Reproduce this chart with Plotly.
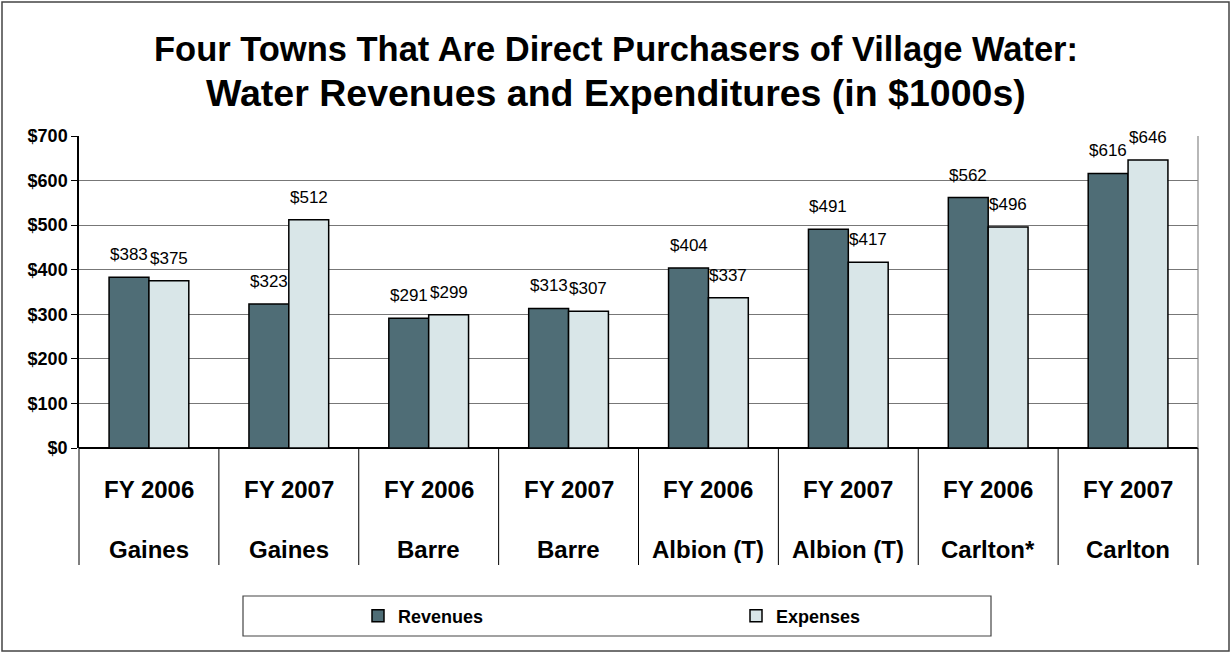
import plotly.graph_objects as go

years = ["FY 2006", "FY 2007", "FY 2006", "FY 2007", "FY 2006", "FY 2007", "FY 2006", "FY 2007"]
towns = ["Gaines", "Gaines", "Barre", "Barre", "Albion (T)", "Albion (T)", "Carlton*", "Carlton"]
revenues = [383, 323, 291, 313, 404, 491, 562, 616]
expenses = [375, 512, 299, 307, 337, 417, 496, 646]
y_ticks = [0, 100, 200, 300, 400, 500, 600, 700]
y_tick_labels = ["$" + str(v) for v in y_ticks]

FONT = "Liberation Sans, Arial, sans-serif"
REV_COLOR = "#4F6D76"
EXP_COLOR = "#D9E6E8"

W, H = 1231, 653
ML, MR, MT, MB = 79, 33, 136, 205
PW, PH = W - ML - MR, H - MT - MB

def px_to_paper_x(px):
    return (px - ML) / PW

def px_to_paper_y(py):
    return (H - MB - py) / PH

n = len(towns)
idx = list(range(n))
bargap = 0.43
bar_w = (1 - bargap) / 2

fig = go.Figure()
fig.add_trace(go.Bar(x=idx, y=revenues, name="Revenues",
                     marker=dict(color=REV_COLOR, line=dict(color="black", width=1.5))))
fig.add_trace(go.Bar(x=idx, y=expenses, name="Expenses",
                     marker=dict(color=EXP_COLOR, line=dict(color="black", width=1.5))))

annotations = []
# data labels
for i in idx:
    for val, off in ((revenues[i], -bar_w / 2), (expenses[i], bar_w / 2)):
        annotations.append(dict(x=i + off, y=val, xref="x", yref="y", text="$" + str(val),
                                showarrow=False, yanchor="bottom", yshift=11,
                                font=dict(family=FONT, size=17, color="black")))
# category labels
for i in idx:
    annotations.append(dict(x=i, y=px_to_paper_y(489), xref="x", yref="paper", text=years[i],
                            showarrow=False, yanchor="middle",
                            font=dict(family=FONT, size=24, color="black", weight="bold")))
    annotations.append(dict(x=i, y=px_to_paper_y(549), xref="x", yref="paper", text=towns[i],
                            showarrow=False, yanchor="middle",
                            font=dict(family=FONT, size=24, color="black", weight="bold")))
# title
annotations.append(dict(x=px_to_paper_x(615.5), y=px_to_paper_y(49), xref="paper", yref="paper",
                        text="Four Towns That Are Direct Purchasers of Village Water:",
                        showarrow=False, yanchor="middle",
                        font=dict(family=FONT, size=34.5, color="black", weight="bold")))
annotations.append(dict(x=px_to_paper_x(615.5), y=px_to_paper_y(93), xref="paper", yref="paper",
                        text="Water Revenues and Expenditures (in $1000s)",
                        showarrow=False, yanchor="middle",
                        font=dict(family=FONT, size=37.5, color="black", weight="bold")))

shapes = []
# category separators
for k in range(n + 1):
    xp = k / n
    shapes.append(dict(type="line", xref="paper", yref="paper", x0=xp, x1=xp,
                       y0=0, y1=px_to_paper_y(565), line=dict(color="black", width=1)))
# outer border
shapes.append(dict(type="rect", xref="paper", yref="paper",
                   x0=px_to_paper_x(2), x1=px_to_paper_x(1229),
                   y0=px_to_paper_y(651), y1=px_to_paper_y(2),
                   line=dict(color="#444444", width=1.5)))
# legend box
shapes.append(dict(type="rect", xref="paper", yref="paper",
                   x0=px_to_paper_x(243), x1=px_to_paper_x(991),
                   y0=px_to_paper_y(636), y1=px_to_paper_y(596),
                   line=dict(color="#444444", width=1.2)))
# right plot border
shapes.append(dict(type="line", xref="paper", yref="paper", x0=1, x1=1, y0=0, y1=1,
                   line=dict(color="#888888", width=1.2)))

fig.update_layout(
    width=W, height=H,
    margin=dict(l=ML, r=MR, t=MT, b=MB),
    paper_bgcolor="white", plot_bgcolor="white",
    barmode="group", bargap=bargap, bargroupgap=0,
    showlegend=True,
    legend=dict(orientation="h", x=px_to_paper_x(358), y=px_to_paper_y(616),
                xanchor="left", yanchor="middle",
                bgcolor="rgba(0,0,0,0)", borderwidth=0,
                entrywidth=333, entrywidthmode="pixels",
                font=dict(family=FONT, size=18, color="black", weight="bold")),
    annotations=annotations,
    shapes=shapes,
    xaxis=dict(range=[-0.5, n - 0.5], showticklabels=False, ticks="",
               showgrid=False, zeroline=False, showline=False, fixedrange=True),
    yaxis=dict(range=[0, 700], tickvals=y_ticks, ticktext=y_tick_labels,
               ticks="outside", ticklen=6, tickcolor="black",
               showgrid=True, gridcolor="#777777", gridwidth=1,
               showline=True, linecolor="black", linewidth=1.5,
               zeroline=True, zerolinecolor="black", zerolinewidth=1.5,
               tickfont=dict(family=FONT, size=18, color="black", weight="bold")),
)

fig.write_html("out.html", config={"displayModeBar": False},
               post_script="document.body.style.margin='0';")
